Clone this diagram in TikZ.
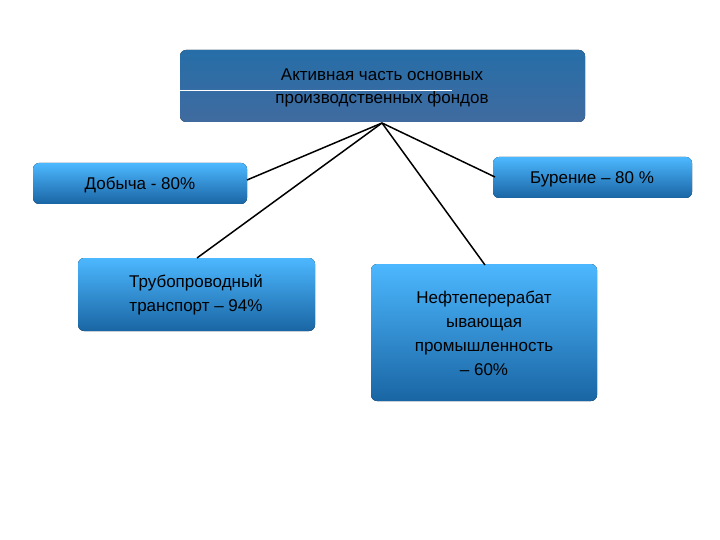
\documentclass[tikz,border=0pt]{standalone}
\usepackage{fontspec}
\setmainfont{Liberation Sans}
\begin{document}
\begin{tikzpicture}[x=1pt,y=-1pt,
 topbox/.style={draw=none,rounded corners=6pt,top color=blue!45!cyan!60!black!85,bottom color=blue!55!cyan!50!black!75,text=black!85},
 bbox/.style={draw=none,rounded corners=6pt,top color=cyan!60!blue!70,bottom color=cyan!55!blue!60!black!90,text=black!85},
 link/.style={line width=1.5pt}]
\useasboundingbox[fill=white] (0,0) rectangle (720,540);
\fill[topbox] (180,50) rectangle (585,122);
\node[inner sep=0,align=center,font=\fontsize{17}{23}\selectfont] (top) at (382,88) {Активная часть основных\\производственных фондов};
\draw[white,line width=1pt] (180,91) -- (452,91);
\coordinate (c) at (382,123);
\fill[bbox] (33,163) rectangle (247,204);
\node[font=\fontsize{17}{21}\selectfont] (d) at (140,185) {Добыча - 80\%};
\fill[bbox] (493,157) rectangle (692,198);
\node[font=\fontsize{17}{21}\selectfont] (b) at (592,179) {Бурение – 80 \%};
\fill[bbox] (78,258) rectangle (315,331);
\node[align=center,font=\fontsize{17}{24}\selectfont] (t) at (196,295) {Трубопроводный\\транспорт – 94\%};
\fill[bbox] (371,264) rectangle (597,401);
\node[align=center,font=\fontsize{17}{24}\selectfont] (n) at (484,333) {Нефтеперерабат\\ывающая\\промышленность\\– 60\%};
\coordinate (de) at (247,180);
\coordinate (te) at (197,258);
\coordinate (ne) at (485,265);
\coordinate (be) at (495,177);
\draw[link] (c) -- (de);
\draw[link] (c) -- (te);
\draw[link] (c) -- (ne);
\draw[link] (c) -- (be);
\end{tikzpicture}
\end{document}
